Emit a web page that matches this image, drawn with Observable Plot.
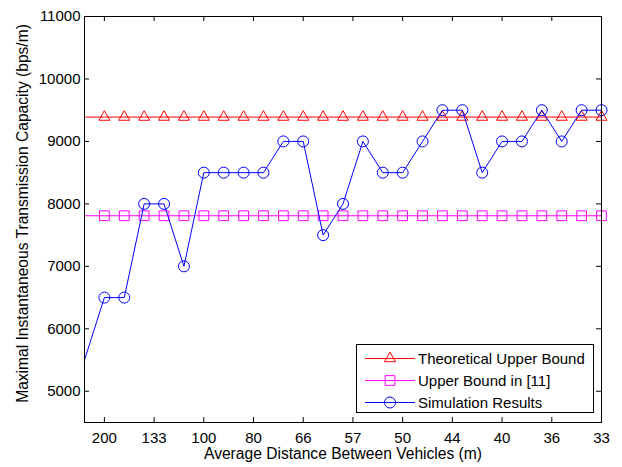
<!DOCTYPE html>
<html><head><meta charset="utf-8">
<script src="https://cdn.jsdelivr.net/npm/d3@7"></script>
<script src="https://cdn.jsdelivr.net/npm/@observablehq/plot@0.6"></script>
<style>
body{margin:0;background:#fff;}
#wrap{position:relative;width:622px;height:467px;font-family:"Liberation Sans",Arial,sans-serif;}
#legend{position:absolute;left:356px;top:344px;}
</style></head><body><div id="wrap"></div>
<script>
// vehicle density (vehicles per km) positions
const density = [4,5,6,7,8,9,10,11,12,13,14,15,16,17,18,19,20,21,22,23,24,25,26,27,28,29,30];
const simulationResults = [5500,6500,6500,8000,8000,7000,8500,8500,8500,8500,9000,9000,7500,8000,9000,8500,8500,9000,9500,9500,8500,9000,9000,9500,9000,9500,9500];
const theoreticalUpperBound = [9390,9390,9390,9390,9390,9390,9390,9390,9390,9390,9390,9390,9390,9390,9390,9390,9390,9390,9390,9390,9390,9390,9390,9390,9390,9390,9390];
const upperBoundRef11 = [7810,7810,7810,7810,7810,7810,7810,7810,7810,7810,7810,7810,7810,7810,7810,7810,7810,7810,7810,7810,7810,7810,7810,7810,7810,7810,7810];
const xTickDensity = [5,7.5,10,12.5,15,17.5,20,22.5,25,27.5,30];
const xTickLabels = ["200","133","100","80","66","57","50","44","40","36","33"];
const yTicks = [5000,6000,7000,8000,9000,10000,11000];
const seriesNames = ["Theoretical Upper Bound","Upper Bound in [11]","Simulation Results"];
const seriesColors = ["#ff0000","#ff00ff","#0000ff"];
const seriesSymbols = ["triangle","square","circle"];
const xLabel = "Average Distance Between Vehicles (m)";
const yLabel = "Maximal Instantaneous Transmission Capacity (bps/m)";

const rows = density.map((d,i)=>({d, sim: simulationResults[i], th: theoreticalUpperBound[i], ub: upperBoundRef11[i]}));
const marked = rows.filter(r => r.d >= 5);

const W = 622, H = 467, mL = 84, mR = 21, mT = 16, mB = 45;
const pw = W - mL - mR, ph = H - mT - mB;
const tl = 5;
const rTri = 4.1, rSq = 5.5, rCirc = 5.5;

const chart = Plot.plot({
  width: W, height: H,
  marginLeft: mL, marginRight: mR, marginTop: mT, marginBottom: mB,
  style: {fontSize: "15px", fontFamily: '"Liberation Sans", Arial, sans-serif', background: "#fff", color: "#000"},
  x: {domain: [4, 30]},
  y: {domain: [4500, 11000]},
  marks: [
    Plot.line(rows, {x: "d", y: "th", stroke: seriesColors[0], strokeWidth: 1}),
    Plot.dot(marked, {x: "d", y: "th", symbol: seriesSymbols[0], r: rTri, stroke: seriesColors[0], fill: "none", strokeWidth: 1}),
    Plot.line(rows, {x: "d", y: "ub", stroke: seriesColors[1], strokeWidth: 1}),
    Plot.dot(marked, {x: "d", y: "ub", symbol: seriesSymbols[1], r: rSq, stroke: seriesColors[1], fill: "none", strokeWidth: 1}),
    Plot.line(rows, {x: "d", y: "sim", stroke: seriesColors[2], strokeWidth: 1}),
    Plot.dot(marked, {x: "d", y: "sim", symbol: seriesSymbols[2], r: rCirc, stroke: seriesColors[2], fill: "none", strokeWidth: 1}),
    Plot.tickX(xTickDensity, {x: d => d, stroke: "#000", insetBottom: ph - tl}),
    Plot.tickX(xTickDensity, {x: d => d, stroke: "#000", insetTop: ph - tl}),
    Plot.tickY(yTicks, {y: d => d, stroke: "#000", insetRight: pw - tl}),
    Plot.tickY(yTicks, {y: d => d, stroke: "#000", insetLeft: pw - tl}),
    Plot.frame({stroke: "#000", strokeWidth: 1}),
    Plot.axisX(xTickDensity, {tickSize: 0, tickPadding: 10, tickFormat: d => xTickLabels[xTickDensity.indexOf(d)], label: null}),
    Plot.axisY(yTicks, {tickSize: 0, tickPadding: 4, tickFormat: d => String(d), label: null}),
    Plot.text([yLabel], {frameAnchor: "left", textAnchor: "middle", dx: -62, dy: -6, rotate: -90, fontSize: 15.6, text: d => d, fill: "#000"}),
    Plot.text([xLabel], {frameAnchor: "bottom", textAnchor: "middle", dy: 36, fontSize: 15.6, text: d => d, fill: "#000"})
  ]
});
const wrap = document.getElementById("wrap");
wrap.appendChild(chart);

// legend overlay
const lw = 239, lh = 70;
const leg = d3.select(wrap).append("svg").attr("id", "legend").attr("width", lw).attr("height", lh)
  .style("font-family", '"Liberation Sans", Arial, sans-serif').style("font-size", "15px");
leg.append("rect").attr("x", 0.5).attr("y", 0.5).attr("width", lw - 2).attr("height", lh - 2)
  .attr("fill", "#fff").attr("stroke", "#000").attr("stroke-width", 1);
const symMap = {triangle: d3.symbolTriangle, square: d3.symbolSquare, circle: d3.symbolCircle};
const rMap = [rTri, rSq, rCirc];
seriesNames.forEach((name, i) => {
  const cy = 14.5 + i * 22;
  const g = leg.append("g");
  g.append("line").attr("x1", 9).attr("x2", 59).attr("y1", cy).attr("y2", cy)
    .attr("stroke", seriesColors[i]).attr("stroke-width", 1);
  g.append("path").attr("transform", `translate(34,${cy})`)
    .attr("d", d3.symbol(symMap[seriesSymbols[i]], rMap[i] * rMap[i] * Math.PI)())
    .attr("fill", "none").attr("stroke", seriesColors[i]).attr("stroke-width", 1);
  g.append("text").attr("x", 62).attr("y", cy).attr("dy", "0.35em").attr("fill", "#000").text(name);
});
</script></body></html>
